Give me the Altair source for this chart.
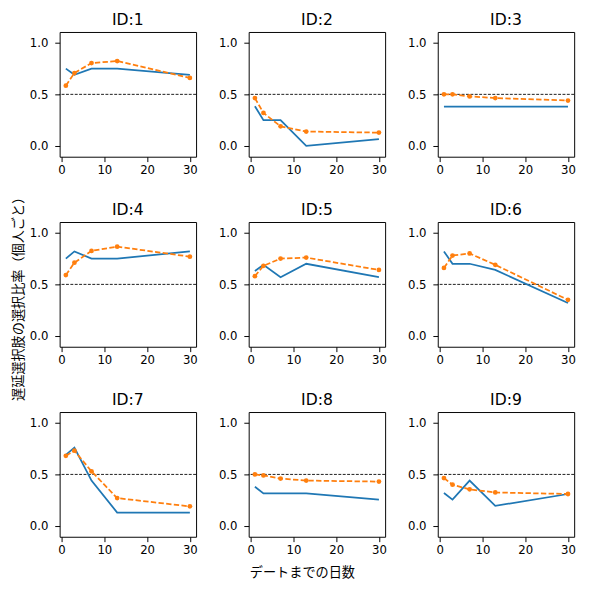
import altair as alt
import pandas as pd

days = [1, 3, 7, 13, 30]
panel_ids = [1, 2, 3, 4, 5, 6, 7, 8, 9]

observed = {
    1: [0.75, 0.69, 0.75, 0.75, 0.69],
    2: [0.385, 0.25, 0.25, 0.0, 0.066],
    3: [0.38, 0.38, 0.38, 0.38, 0.38],
    4: [0.75, 0.82, 0.75, 0.75, 0.82],
    5: [0.63, 0.69, 0.57, 0.70, 0.57],
    6: [0.82, 0.70, 0.70, 0.64, 0.32],
    7: [0.69, 0.76, 0.44, 0.13, 0.13],
    8: [0.38, 0.315, 0.315, 0.315, 0.255],
    9: [0.32, 0.255, 0.44, 0.195, 0.31],
}
predicted = {
    1: [0.584, 0.707, 0.804, 0.823, 0.659],
    2: [0.464, 0.32, 0.19, 0.139, 0.129],
    3: [0.50, 0.50, 0.48, 0.464, 0.44],
    4: [0.59, 0.71, 0.825, 0.866, 0.769],
    5: [0.58, 0.68, 0.75, 0.76, 0.64],
    6: [0.66, 0.78, 0.80, 0.69, 0.35],
    7: [0.68, 0.73, 0.53, 0.27, 0.19],
    8: [0.50, 0.49, 0.46, 0.44, 0.43],
    9: [0.465, 0.40, 0.355, 0.325, 0.31],
}
threshold = 0.5
x_ticks = [0, 10, 20, 30]
y_ticks = [0.0, 0.5, 1.0]
x_label = "デートまでの日数"
y_label = "遅延選択肢の選択比率（個人ごと）"

FONT = "DejaVu Sans"
JFONT = "Noto Sans CJK JP"
BLUE = "#1f77b4"
ORANGE = "#ff7f0e"

xs = alt.Scale(domain=[-0.45, 31.45], nice=False, zero=False)
ys = alt.Scale(domain=[-0.105, 1.105], nice=False, zero=False)
xa = alt.Axis(values=x_ticks, title=None, grid=False, domain=False,
              tickSize=5, tickColor="black", labelPadding=3, labelFontSize=12,
              labelColor="black", labelFont=FONT)
ya = alt.Axis(values=y_ticks, format=".1f", title=None, grid=False, domain=False,
              tickSize=5, tickColor="black", labelPadding=7, labelFontSize=12,
              labelColor="black", labelFont=FONT)


def panel(i):
    obs = pd.DataFrame({"day": days, "value": observed[i]})
    pred = pd.DataFrame({"day": days, "value": predicted[i]})
    thr = pd.DataFrame({"value": [threshold]})
    rule = alt.Chart(thr).mark_rule(color="black", strokeWidth=0.9,
                                    strokeDash=[3, 1.5]).encode(
        y=alt.Y("value:Q", scale=ys, axis=ya))
    line_obs = alt.Chart(obs).mark_line(color=BLUE, strokeWidth=1.8).encode(
        x=alt.X("day:Q", scale=xs, axis=xa),
        y=alt.Y("value:Q", scale=ys, axis=ya))
    line_pred = alt.Chart(pred).mark_line(
        color=ORANGE, strokeWidth=1.8, strokeDash=[5.5, 2.4],
        point=alt.OverlayMarkDef(color=ORANGE, size=24, filled=True, opacity=1)
    ).encode(
        x=alt.X("day:Q", scale=xs, axis=xa),
        y=alt.Y("value:Q", scale=ys, axis=ya))
    return alt.layer(rule, line_obs, line_pred).properties(
        width=140, height=128,
        title=alt.TitleParams(f"ID:{i}", fontSize=16, fontWeight="normal",
                              font=FONT, offset=4, color="black"))


grid = alt.concat(*[panel(i) for i in panel_ids], columns=3,
                  spacing=alt.RowColnumber(row=26, column=20)).properties(
    title=alt.TitleParams(x_label, orient="bottom", anchor="middle", fontSize=13.5,
                          fontWeight="normal", font=JFONT, color="black", offset=11))

chart = alt.vconcat(grid).properties(
    title=alt.TitleParams(y_label, orient="left", anchor="middle", fontSize=13.5,
                          fontWeight="normal", font=JFONT, color="black", offset=4)
).configure(
    background="white", padding={"left": 3, "top": -4, "right": 5, "bottom": 3}
).configure_view(stroke="black", strokeWidth=1)

chart.save("out.html", embed_options={"renderer": "svg", "actions": False})
